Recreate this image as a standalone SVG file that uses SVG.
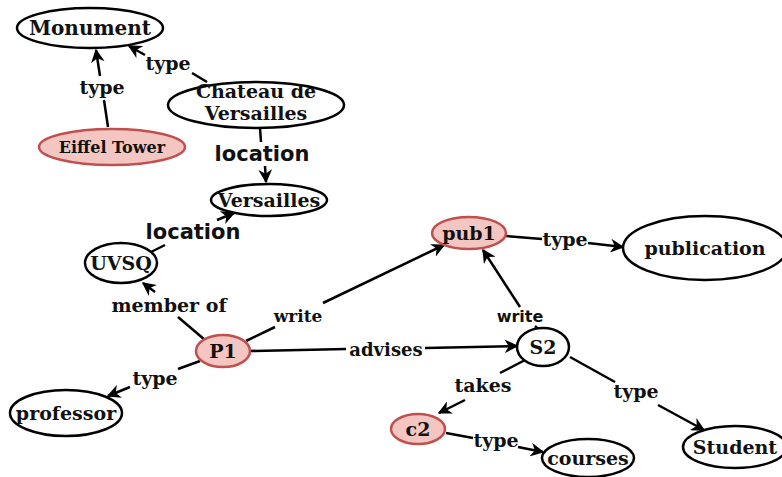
<svg xmlns="http://www.w3.org/2000/svg" width="782" height="477" viewBox="0 0 782 477">
<defs>
<marker id="arr" viewBox="0 0 10 10" refX="9" refY="5" markerWidth="5.5" markerHeight="5.5" orient="auto" markerUnits="strokeWidth">
<path d="M0,0 L10,5 L0,10 L3,5 z" fill="#000"/>
</marker>
<style>
.n ellipse{fill:#fff;stroke:#000;stroke-width:2.5}
.n.h ellipse{fill:#f4c6c2;stroke:#c0504d}
.n text{font-family:"DejaVu Serif",serif;font-weight:bold;font-size:19px;text-anchor:middle;fill:#111}
.e line{stroke:#000;stroke-width:2.5}
.e line.a{marker-end:url(#arr)}
.l text{font-family:"DejaVu Serif",serif;font-weight:bold;font-size:19px;text-anchor:middle;fill:#111}
.l text.s{font-family:"DejaVu Sans",sans-serif;font-size:21px}
</style>
</defs>
<rect width="782" height="477" fill="#fff"/>
<g id="connectors" class="e">
<line x1="108" y1="127" x2="104" y2="100"/>
<line class="a" x1="100" y1="76" x2="96" y2="50"/>
<line x1="207" y1="82" x2="192" y2="73"/>
<line class="a" x1="145" y1="55" x2="129" y2="46"/>
<line x1="260" y1="128" x2="261" y2="142"/>
<line class="a" x1="265" y1="166" x2="266" y2="182"/>
<line x1="151" y1="252" x2="165" y2="245"/>
<line class="a" x1="217" y1="220" x2="234" y2="213"/>
<line x1="205" y1="340" x2="178" y2="317"/>
<line class="a" x1="155" y1="292" x2="143" y2="283"/>
<line x1="200" y1="361" x2="178" y2="369"/>
<line class="a" x1="130" y1="387" x2="108" y2="396"/>
<line x1="246" y1="341" x2="275" y2="327"/>
<line class="a" x1="323" y1="303" x2="444" y2="245"/>
<line x1="250" y1="351" x2="346" y2="349"/>
<line class="a" x1="425" y1="348" x2="517" y2="346"/>
<line x1="506" y1="236" x2="542" y2="239"/>
<line class="a" x1="588" y1="243" x2="623" y2="247"/>
<line class="a" x1="520" y1="307" x2="483" y2="250"/>
<line x1="535" y1="326" x2="539" y2="330"/>
<line x1="527" y1="359" x2="500" y2="373"/>
<line class="a" x1="465" y1="400" x2="439" y2="413"/>
<line x1="570" y1="357" x2="615" y2="382"/>
<line class="a" x1="658" y1="405" x2="704" y2="430"/>
<line x1="446" y1="433" x2="473" y2="438"/>
<line class="a" x1="518" y1="447" x2="543" y2="452"/>
</g>
<g id="labels" class="l">
<text x="102" y="94">type</text>
<text x="168" y="70">type</text>
<text class="s" x="262" y="161">location</text>
<text class="s" x="193" y="239">location</text>
<text x="169" y="312">member of</text>
<text x="155" y="385">type</text>
<text x="298" y="322" style="font-size:17px">write</text>
<text x="386" y="356" style="font-size:18px">advises</text>
<text x="565" y="246">type</text>
<text class="s" x="520" y="322" style="font-size:16px">write</text>
<text x="483" y="392">takes</text>
<text x="636" y="398">type</text>
<text x="496" y="447">type</text>
</g>
<g id="Monument" class="n"><ellipse cx="90" cy="28" rx="73" ry="20"/><text x="90" y="35" style="font-size:20px">Monument</text></g>
<g id="Chateau" class="n"><ellipse cx="256" cy="105" rx="88" ry="23"/><text x="256" y="98">Chateau de</text><text x="256" y="120">Versailles</text></g>
<g id="EiffelTower" class="n h"><ellipse cx="112" cy="147" rx="73" ry="18"/><text x="112" y="153" style="font-size:16px">Eiffel Tower</text></g>
<g id="Versailles" class="n"><ellipse cx="269" cy="200" rx="58" ry="16"/><text x="269" y="207">Versailles</text></g>
<g id="UVSQ" class="n"><ellipse cx="121" cy="263" rx="36" ry="20"/><text x="121" y="270">UVSQ</text></g>
<g id="P1" class="n h"><ellipse cx="223" cy="351" rx="27" ry="16"/><text x="223" y="358">P1</text></g>
<g id="professor" class="n"><ellipse cx="66" cy="413" rx="56" ry="23"/><text x="66" y="420">professor</text></g>
<g id="pub1" class="n h"><ellipse cx="469" cy="233" rx="37" ry="16"/><text x="469" y="240">pub1</text></g>
<g id="publication" class="n"><ellipse cx="705" cy="248" rx="82" ry="32"/><text x="705" y="255">publication</text></g>
<g id="S2" class="n"><ellipse cx="543" cy="347" rx="26" ry="19"/><text x="543" y="354">S2</text></g>
<g id="c2" class="n h"><ellipse cx="418" cy="429" rx="27" ry="15"/><text x="418" y="436">c2</text></g>
<g id="courses" class="n"><ellipse cx="588" cy="458" rx="46" ry="19"/><text x="588" y="465">courses</text></g>
<g id="Student" class="n"><ellipse cx="735" cy="447" rx="52" ry="21"/><text x="735" y="454">Student</text></g>
</svg>
